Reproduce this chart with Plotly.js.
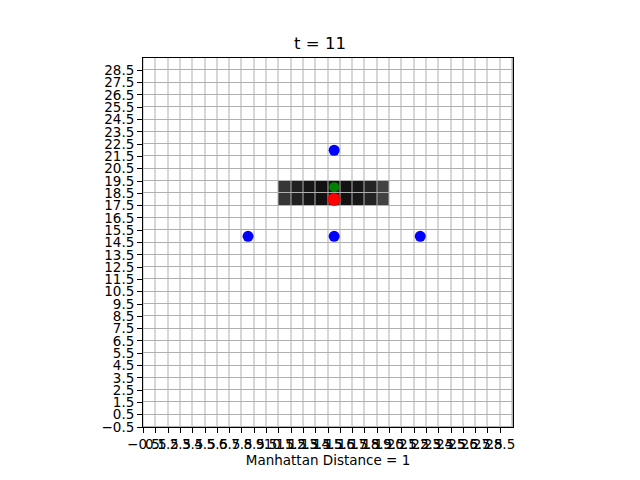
<!DOCTYPE html>
<html>
<head>
<meta charset="utf-8">
<script src="https://cdn.plot.ly/plotly-3.0.1.min.js"></script>
<style>body{margin:0;padding:0;background:#fff;}</style>
</head>
<body>
<div id="chart" style="width:640px;height:480px;"></div>
<script>
// Grid size
const gridSize = 30;
// Dark block cells (columns, rows) and their grey intensity (0 = black, 1 = white)
const blockCols = [11, 12, 13, 14, 15, 16, 17, 18, 19];
const blockRows = [18, 19];
const blockIntensity = [0.21, 0.13, 0.09, 0.07, 0.06, 0.07, 0.09, 0.14, 0.26];
// Markers
const blueX = [15, 8, 15, 22];
const blueY = [22, 15, 15, 15];
const greenX = [15];
const greenY = [19];
const redX = [15];
const redY = [18];
// Tick values/labels
const tickVals = [];
for (let v = -0.5; v <= 28.5; v += 1) tickVals.push(v);
const tickText = tickVals.map(v => (v < 0 ? '\u2212' + Math.abs(v).toFixed(1) : v.toFixed(1)));

// Build heatmap matrix
const z = [];
for (let r = 0; r < gridSize; r++) {
  const row = [];
  for (let c = 0; c < gridSize; c++) row.push(1);
  z.push(row);
}
blockRows.forEach(r => {
  blockCols.forEach((c, i) => { z[r][c] = blockIntensity[i]; });
});
const idx = [];
for (let i = 0; i < gridSize; i++) idx.push(i);

const traces = [
  {
    type: 'heatmap', x: idx, y: idx, z: z, zmin: 0, zmax: 1, xgap: 1, ygap: 1,
    colorscale: [[0, '#000000'], [1, '#ffffff']], showscale: false, hoverinfo: 'skip'
  },
  {
    type: 'scatter', mode: 'markers', x: redX, y: redY,
    marker: {color: '#ff0000', size: 13, symbol: 'circle'}
  },
  {
    type: 'scatter', mode: 'markers', x: greenX, y: greenY,
    marker: {color: '#008000', size: 10, symbol: 'circle'}
  },
  {
    type: 'scatter', mode: 'markers', x: blueX, y: blueY,
    marker: {color: '#0000ff', size: 11, symbol: 'circle'}
  }
];

const axisCommon = {
  range: [-0.5, 29.5],
  tickmode: 'array', tickvals: tickVals, ticktext: tickText,
  ticks: 'outside', ticklen: 5, tickwidth: 1, tickcolor: '#000',
  showgrid: true, gridcolor: '#b0b0b0', gridwidth: 1,
  showline: true, linecolor: '#000', linewidth: 1, mirror: true,
  zeroline: false,
  tickfont: {family: 'DejaVu Sans', size: 13.5, color: '#000'}
};

const layout = {
  width: 640, height: 480,
  margin: {l: 143, r: 127, t: 58, b: 53},
  paper_bgcolor: '#fff', plot_bgcolor: '#b0b0b0',
  showlegend: false,
  title: {text: 't = 11', x: 0.5, xanchor: 'center', y: 1 - 43/480, yanchor: 'middle',
          font: {family: 'DejaVu Sans', size: 16.5, color: '#000'}},
  xaxis: Object.assign({}, axisCommon, {
    title: {text: 'Manhattan Distance = 1', standoff: 4,
            font: {family: 'DejaVu Sans', size: 13.5, color: '#000'}},
    tickangle: 0
  }),
  yaxis: Object.assign({}, axisCommon, {scaleanchor: 'x', scaleratio: 1}),
  font: {family: 'DejaVu Sans'}
};

Plotly.newPlot('chart', traces, layout, {displayModeBar: false, staticPlot: true});
</script>
</body>
</html>
